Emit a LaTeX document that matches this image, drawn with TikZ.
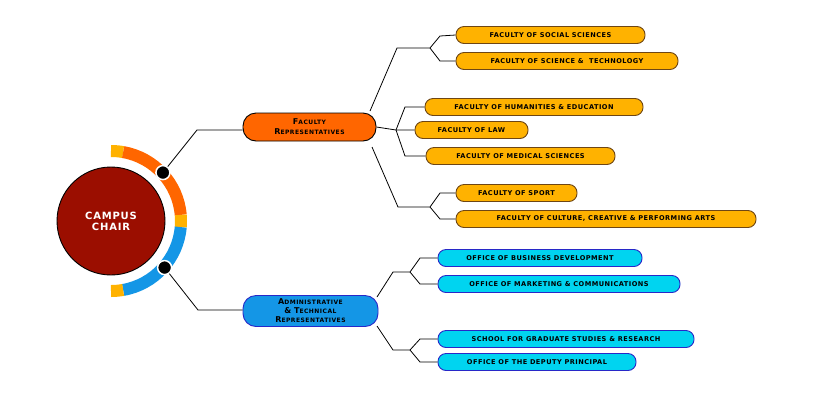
\documentclass[tikz,border=0pt]{standalone}
\usepackage{fontspec}
\setmainfont{DejaVu Sans}
\newfontfamily\leaffont[LetterSpace=7]{DejaVu Sans Bold}
\newfontfamily\headfont[LetterSpace=8]{DejaVu Sans Bold}
\newcommand{\fsc}[2]{{\fontsize{8}{8}\selectfont #1}{\fontsize{6}{8}\selectfont #2}}
\definecolor{ringorange}{RGB}{255,102,0}
\definecolor{ringyellow}{RGB}{255,178,0}
\definecolor{ringblue}{RGB}{20,150,230}
\definecolor{leafyellow}{RGB}{255,178,0}
\definecolor{leafborder}{RGB}{110,70,20}
\definecolor{leafcyan}{RGB}{0,212,240}
\definecolor{cyanborder}{RGB}{40,40,200}
\definecolor{chairred}{RGB}{155,14,0}
\begin{document}
\begin{tikzpicture}[x=1pt,y=-1pt,
  leaf/.style={draw=leafborder,fill=leafyellow,line width=0.9pt,rounded corners=8pt,minimum height=17pt,inner sep=0pt,font=\leaffont\fontsize{6.6}{7}\selectfont},
  cleaf/.style={leaf,draw=cyanborder,fill=leafcyan},
  head/.style={draw=black,line width=0.9pt,rounded corners=13pt,inner sep=0pt,align=center,font=\headfont\bfseries},
  con/.style={line width=0.8pt,black},
  dot/.style={circle,fill=black,draw=white,line width=1.5pt,minimum size=14pt,inner sep=0pt}]
\useasboundingbox (0,0) rectangle (840,400);
% ring
\def\cx{111}\def\cy{221}
\foreach \a/\b/\c in {90/80/ringyellow,80/5/ringorange,5/-5/ringyellow,-5/-80/ringblue,-80/-90/ringyellow}
  \draw[\c,line width=12pt] ({\cx+70*cos(\a)},{\cy-70*sin(\a)}) arc[start angle=-\a,end angle=-\b,radius=70];
\node[circle,draw=black,line width=0.9pt,fill=chairred,minimum size=108pt,inner sep=0pt,text=white,align=center,font=\headfont\fontsize{10}{11}\selectfont] (chair) at (\cx,\cy) {CAMPUS\\CHAIR};
\node[dot] (d1) at ({\cx+71*cos(43)},{\cy-71*sin(43)}) {};
\node[dot] (d2) at ({\cx+71*cos(41)},{\cy+71*sin(41)}) {};
% heads
\node[head,fill=ringorange,minimum width=133pt,minimum height=28pt] (fac) at (309.5,127) {\fsc{F}{ACULTY}\\[-2pt]\fsc{R}{EPRESENTATIVES}};
\node[head,fill=ringblue,draw=cyanborder,minimum width=135pt,minimum height=31pt] (adm) at (310.5,311) {\fsc{A}{DMINISTRATIVE}\\[-3pt]\fsc{\&}{ }\fsc{T}{ECHNICAL}\\[-3pt]\fsc{R}{EPRESENTATIVES}};
\coordinate (j1) at (197,130);
\coordinate (j2) at (198,310);
\draw[con] (d1) -- (j1) -- (fac.west |- j1);
\draw[con] (d2) -- (j2) -- (adm.west |- j2);
% leaves
\node[leaf,minimum width=189pt] (l1) at (550.5,35) {FACULTY OF SOCIAL SCIENCES};
\node[leaf,minimum width=222pt] (l2) at (567,61) {FACULTY OF SCIENCE \&\ \ TECHNOLOGY};
\node[leaf,minimum width=218pt] (l3) at (534,107) {FACULTY OF HUMANITIES \& EDUCATION};
\node[leaf,minimum width=113pt] (l4) at (471.5,130) {FACULTY OF LAW};
\node[leaf,minimum width=189pt] (l5) at (520.5,156) {FACULTY OF MEDICAL SCIENCES};
\node[leaf,minimum width=121pt] (l6) at (516.5,193) {FACULTY OF SPORT};
\node[leaf,minimum width=300pt] (l7) at (606,219) {FACULTY OF CULTURE, CREATIVE \& PERFORMING ARTS};
\node[cleaf,minimum width=204pt] (c1) at (540,258) {OFFICE OF BUSINESS DEVELOPMENT};
\node[cleaf,minimum width=242pt] (c2) at (559,284) {OFFICE OF MARKETING \& COMMUNICATIONS};
\node[cleaf,minimum width=256pt] (c3) at (566,339) {SCHOOL FOR GRADUATE STUDIES \& RESEARCH};
\node[cleaf,minimum width=198pt] (c4) at (537,362) {OFFICE OF THE DEPUTY PRINCIPAL};
% faculty connectors
\coordinate (f1s) at (370,111); \coordinate (f1a) at (397,48); \coordinate (f1b) at (430,48);
\draw[con] (f1s) -- (f1a) -- (f1b) -- (440,36) -- (l1.west);
\draw[con] (f1b) -- (440,61) -- (l2.west);
\coordinate (f2a) at (396,130);
\draw[con] (fac.east) -- (f2a) -- (l4.west);
\draw[con] (f2a) -- (405,107) -- (l3.west);
\draw[con] (f2a) -- (405,156) -- (l5.west);
\coordinate (f3s) at (372,147); \coordinate (f3a) at (398,207); \coordinate (f3b) at (430,207);
\draw[con] (f3s) -- (f3a) -- (f3b) -- (440,193) -- (l6.west);
\draw[con] (f3b) -- (440,219) -- (l7.west);
% admin connectors
\coordinate (a1s) at (377,297); \coordinate (a1a) at (393,272); \coordinate (a1b) at (410,272);
\draw[con] (a1s) -- (a1a) -- (a1b) -- (420,258) -- (c1.west);
\draw[con] (a1b) -- (420,284) -- (c2.west);
\coordinate (a2s) at (377,326); \coordinate (a2a) at (393,350); \coordinate (a2b) at (410,350);
\draw[con] (a2s) -- (a2a) -- (a2b) -- (420,339) -- (c3.west);
\draw[con] (a2b) -- (420,362) -- (c4.west);
\end{tikzpicture}
\end{document}
